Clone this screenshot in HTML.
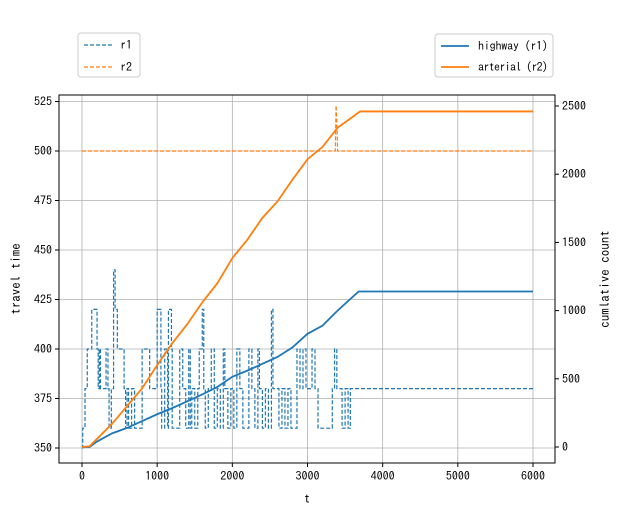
<!DOCTYPE html>
<html><head><meta charset="utf-8"><style>
body{margin:0;background:#fff}
svg{display:block;font-family:"IPAGothic","Liberation Mono",monospace}
</style></head><body>
<svg id="c" width="621" height="516"></svg>
<script>
const tickX=[0,1000,2000,3000,4000,5000,6000];
const tickYL=[350,375,400,425,450,475,500,525];
const tickYR=[0,500,1000,1500,2000,2500];
const r1T=[0,10,40,70,130,150,200,215,230,245,320,345,360,390,420,440,470,510,560,580,600,620,660,700,720,800,900,920,1000,1050,1060,1100,1140,1150,1190,1200,1260,1300,1340,1380,1420,1440,1460,1500,1540,1560,1600,1620,1640,1680,1720,1760,1800,1840,1880,1900,1940,1980,2020,2060,2100,2140,2180,2220,2260,2300,2340,2360,2400,2440,2480,2520,2540,2580,2620,2660,2700,2740,2780,2860,2900,2940,2980,3020,3060,3100,3120,3140,3330,3360,3390,3410,3460,3500,3540,3570,6000];
const r1V=[350,360,380,400,420,420,400,380,400,380,400,380,360,380,440,420,400,400,380,360,380,360,380,360,360,400,380,380,420,380,360,400,360,420,400,360,360,400,380,360,400,360,380,360,380,400,420,380,360,380,400,360,380,360,400,380,360,380,360,400,380,360,360,400,380,360,400,380,360,380,360,420,380,380,360,380,360,380,360,400,380,400,380,380,400,380,380,360,380,400,380,380,360,380,360,380,380];
const r2T=[0,3370,3380,3395,3400,6000];
const r2V=[500,500,523,510,500,500];
const hwT=[0,100,200,400,600,800,1000,1200,1400,1600,1800,2000,2200,2400,2600,2800,3000,3200,3400,3600,3680,6000];
const hwV=[0,0,40,100,140,190,240,285,335,385,440,515,560,610,660,730,830,890,1000,1100,1140,1140];
const arT=[0,100,200,400,600,800,1000,1200,1400,1600,1800,2000,2200,2400,2600,2800,3000,3200,3400,3600,3700,6000];
const arV=[0,5,60,170,300,430,600,760,900,1060,1200,1385,1520,1680,1800,1960,2110,2200,2340,2420,2460,2460];

const svg=document.getElementById('c');const NS='http://www.w3.org/2000/svg';
const L=59,R=555,T=95,B=463;
const sx=t=>82+t*(533-82)/6000;
const syL=v=>448-(v-350)*49.5/25;
const syR=v=>447-v*68.2/500;
function mk(tag,attrs,name,text){const e=document.createElementNS(NS,tag);for(const k in attrs)e.setAttribute(k,attrs[k]);


if(text!==undefined)e.textContent=text;svg.appendChild(e);return e;}
function stepPath(ts,vs,fy){let d='';for(let i=0;i<ts.length;i++){const x=sx(ts[i]),y=fy(vs[i]);if(i==0)d+='M'+x+' '+y;else{d+='L'+x+' '+fy(vs[i-1])+'L'+x+' '+y;}}return d;}
function linePath(ts,vs,fy){return ts.map((t,i)=>(i?'L':'M')+sx(t)+' '+fy(vs[i])).join('');}
tickX.forEach(t=>{mk('line',{x1:sx(t),x2:sx(t),y1:T,y2:B,stroke:'#b0b0b0','stroke-width':0.8},'grid-x');
mk('line',{x1:sx(t),x2:sx(t),y1:B,y2:B+4,stroke:'#000'},'x-tick');
mk('text',{x:sx(t),y:B+17,'text-anchor':'middle','font-size':12},'x-tick-label',t);});
tickYL.forEach(v=>{mk('line',{x1:L,x2:R,y1:syL(v),y2:syL(v),stroke:'#b0b0b0','stroke-width':0.8},'grid-y');
mk('line',{x1:L-4,x2:L,y1:syL(v),y2:syL(v),stroke:'#000'},'y-tick');
mk('text',{x:L-7,y:syL(v)+4,'text-anchor':'end','font-size':12},'y-tick-label',v);});
tickYR.forEach(v=>{mk('line',{x1:R,x2:R+4,y1:syR(v),y2:syR(v),stroke:'#000'},'y2-tick');
mk('text',{x:R+7,y:syR(v)+4,'font-size':12},'y2-tick-label',v);});
mk('path',{d:stepPath(r1T,r1V,syL),fill:'none',stroke:'#1f77b4','stroke-width':1.2,'stroke-dasharray':'4,2'},'r1-line');
mk('path',{d:linePath(r2T,r2V,syL),fill:'none',stroke:'#ff7f0e','stroke-width':1.2,'stroke-dasharray':'4,2'},'r2-line');
mk('path',{d:linePath(hwT,hwV,syR),fill:'none',stroke:'#1f77b4','stroke-width':1.8},'highway-cumulative-line');
mk('path',{d:linePath(arT,arV,syR),fill:'none',stroke:'#ff7f0e','stroke-width':1.8},'arterial-cumulative-line');
mk('rect',{x:L,y:T,width:R-L,height:B-T,fill:'none',stroke:'#000','stroke-width':1},'plot-frame');
mk('text',{x:307,y:503,'text-anchor':'middle','font-size':13},'x-axis-title','t');
mk('text',{x:20,y:279,'text-anchor':'middle','font-size':13,transform:'rotate(-90 20 279)'},'y-axis-title','travel time');
mk('text',{x:609,y:279,'text-anchor':'middle','font-size':13,transform:'rotate(-90 609 279)'},'y2-axis-title','cumlative count');
mk('rect',{x:78,y:33,width:62,height:44,rx:3,fill:'#fff',stroke:'#ccc'},'legend-left');
mk('line',{x1:84,x2:112,y1:45,y2:45,stroke:'#1f77b4','stroke-dasharray':'4,2','stroke-width':1.2},'legend-r1-swatch');
mk('text',{x:120,y:49,'font-size':12},'legend-r1-label','r1');
mk('line',{x1:84,x2:112,y1:67,y2:67,stroke:'#ff7f0e','stroke-dasharray':'4,2','stroke-width':1.2},'legend-r2-swatch');
mk('text',{x:120,y:71,'font-size':12},'legend-r2-label','r2');
mk('rect',{x:435,y:34,width:118,height:43,rx:3,fill:'#fff',stroke:'#ccc'},'legend-right');
mk('line',{x1:441,x2:469,y1:46,y2:46,stroke:'#1f77b4','stroke-width':1.8},'legend-highway-swatch');
mk('text',{x:478,y:50,'font-size':12,textLength:70},'legend-highway-label','highway (r1)');
mk('line',{x1:441,x2:469,y1:67,y2:67,stroke:'#ff7f0e','stroke-width':1.8},'legend-arterial-swatch');
mk('text',{x:478,y:71,'font-size':12,textLength:70},'legend-arterial-label','arterial (r2)');
</script>
</body></html>
